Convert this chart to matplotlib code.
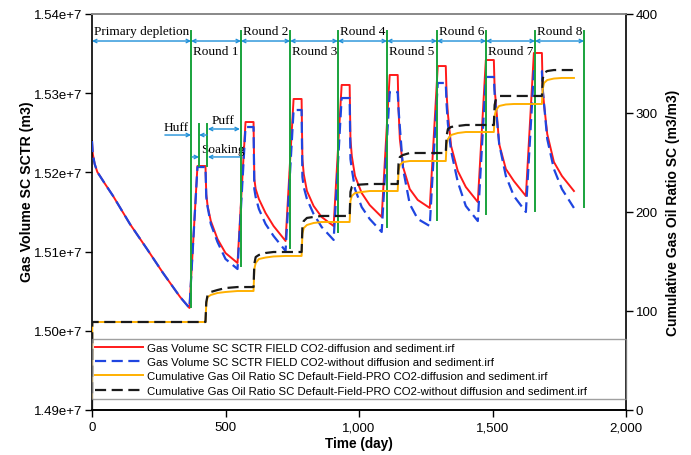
import matplotlib
matplotlib.use("Agg")
import matplotlib.pyplot as plt
from matplotlib.ticker import FuncFormatter, FixedLocator

# ---- data (gas volume in million m3, GOR in m3/m3, time in days) ----
primary_days = [0, 3, 10, 20, 49, 79, 142, 206, 266, 330, 365]
primary_gas = [15.2396, 15.2232, 15.2106, 15.2005, 15.1854, 15.1702,
               15.1349, 15.1033, 15.0730, 15.0427, 15.0288]

round_starts = [365, 545, 725, 905, 1085, 1265, 1445, 1625]
huff_days = 30
soak_days = 30
puff_offsets = [0, 3, 8, 20, 45, 75, 120]

# first value = plateau after huff, then values during puff
red_puff = [
    [15.2081, 15.1727, 15.1576, 15.1386, 15.1159, 15.0982, 15.0856],
    [15.2636, 15.1917, 15.1790, 15.1664, 15.1487, 15.1323, 15.1134],
    [15.2927, 15.2169, 15.1980, 15.1765, 15.1576, 15.1437, 15.1323],
    [15.3104, 15.2422, 15.2207, 15.1955, 15.1740, 15.1588, 15.1437],
    [15.3230, 15.2801, 15.2422, 15.2068, 15.1790, 15.1652, 15.1551],
    [15.3343, 15.2990, 15.2737, 15.2333, 15.2018, 15.1816, 15.1626],
    [15.3419, 15.3053, 15.2864, 15.2359, 15.2043, 15.1891, 15.1702],
    [15.3508, 15.3053, 15.2864, 15.2485, 15.2131, 15.1955, 15.1765],
]
blue_puff = [
    [15.2068, 15.1689, 15.1563, 15.1349, 15.1121, 15.0907, 15.0780],
    [15.2573, 15.1790, 15.1689, 15.1538, 15.1349, 15.1197, 15.1008],
    [15.2788, 15.1942, 15.1816, 15.1664, 15.1475, 15.1311, 15.1147],
    [15.2939, 15.2169, 15.2043, 15.1790, 15.1563, 15.1412, 15.1248],
    [15.3015, 15.2801, 15.2573, 15.2043, 15.1601, 15.1412, 15.1323],
    [15.3129, 15.2864, 15.2611, 15.2270, 15.1879, 15.1576, 15.1386],
    [15.3205, 15.2990, 15.2801, 15.2359, 15.1955, 15.1702, 15.1500],
    [15.3280, 15.3053, 15.2864, 15.2422, 15.2043, 15.1790, 15.1551],
]

gor_start = [0.0, 88.9]
orange_puff = [
    [88.9, 107.1, 114.1, 116.2, 118.2, 119.2, 120.2],
    [120.2, 142.4, 148.5, 152.5, 154.0, 155.1, 155.6],
    [155.6, 177.8, 183.8, 186.9, 188.9, 189.9, 189.9],
    [189.9, 211.1, 216.2, 219.2, 220.2, 221.2, 221.2],
    [221.2, 241.4, 247.5, 250.5, 251.5, 251.5, 251.5],
    [251.5, 268.7, 273.7, 277.8, 279.8, 280.8, 280.8],
    [280.8, 297.0, 303.0, 307.1, 308.6, 309.1, 309.1],
    [309.1, 324.2, 330.3, 333.3, 334.8, 335.4, 335.4],
]
black_puff = [
    [88.9, 109.1, 116.2, 119.2, 121.2, 123.2, 124.2],
    [124.2, 147.5, 154.5, 156.6, 158.6, 159.6, 159.6],
    [159.6, 184.8, 190.9, 194.0, 195.0, 196.0, 196.0],
    [196.0, 220.2, 225.3, 227.3, 227.8, 228.3, 228.3],
    [228.3, 248.5, 255.6, 257.6, 259.6, 259.6, 259.6],
    [259.6, 276.8, 283.8, 285.9, 286.9, 287.9, 287.9],
    [287.9, 308.1, 314.1, 317.2, 317.2, 317.2, 317.2],
    [317.2, 334.3, 340.4, 342.4, 343.4, 343.4, 343.4],
]

# hand-drawn annotation lines (day, bottom of line in million m3)
marker_days = [371, 558, 742, 921, 1105, 1292, 1476, 1659, 1843]
marker_bottoms = [15.0301, 15.0818, 15.1046, 15.1248, 15.1311,
                  15.1399, 15.1475, 15.1513, 15.1563]
marker_top = 15.3785
phase_days = [401, 431]
phase_top, phase_bottom = 15.2611, 15.2081
period_labels = ["Primary depletion", "Round 1", "Round 2", "Round 3", "Round 4",
                 "Round 5", "Round 6", "Round 7", "Round 8"]

legend_labels = [
    "Gas Volume SC SCTR FIELD CO2-diffusion and sediment.irf",
    "Gas Volume SC SCTR FIELD CO2-without diffusion and sediment.irf",
    "Cumulative Gas Oil Ratio SC Default-Field-PRO CO2-diffusion and sediment.irf",
    "Cumulative Gas Oil Ratio SC Default-Field-PRO CO2-without diffusion and sediment.irf",
]


def gas_series(puff):
    days = list(primary_days)
    vals = list(primary_gas)
    for t0, seg in zip(round_starts, puff):
        days.append(t0 + huff_days)
        vals.append(seg[0])
        for off, v in zip(puff_offsets, seg):
            days.append(t0 + huff_days + soak_days + off)
            vals.append(v)
    return days, [v * 1e6 for v in vals]


def gor_series(puff):
    days = [0, 1]
    vals = list(gor_start)
    for t0, seg in zip(round_starts, puff):
        for off, v in zip(puff_offsets, seg):
            days.append(t0 + huff_days + soak_days + off)
            vals.append(v)
    return days, vals


plt.rcParams["font.family"] = ["Liberation Sans", "DejaVu Sans"]
SERIF = ["Liberation Serif", "DejaVu Serif"]
ARROW_C = "#1e8fd8"
GREEN = "#19a33c"

fig = plt.figure(figsize=(6.91, 4.56), dpi=100)
ax = fig.add_axes([92 / 691, 1 - 411 / 456, 534 / 691, 396 / 456])
ax2 = ax.twinx()

d, v = gas_series(red_puff)
l1, = ax.plot(d, v, color="#ff1a1a", lw=1.4, zorder=2)
d, v = gas_series(blue_puff)
l2, = ax.plot(d, v, color="#1f45e0", lw=1.6, ls=(0, (5, 2.5)), zorder=3)

d, v = gor_series(orange_puff)
l3, = ax2.plot(d, v, color="#ffb000", lw=1.4)
d, v = gor_series(black_puff)
l4, = ax2.plot(d, v, color="#1a1a1a", lw=1.6, ls=(0, (5, 2.5)))

# green round markers
for x, b in zip(marker_days, marker_bottoms):
    ax.plot([x, x], [marker_top * 1e6, b * 1e6], color=GREEN, lw=1.4, zorder=4)
for x in phase_days:
    ax.plot([x, x], [phase_top * 1e6, phase_bottom * 1e6], color=GREEN, lw=1.4, zorder=4)


def arrow(x1, x2, y, style="<->"):
    ax.annotate("", xy=(x2, y * 1e6), xytext=(x1, y * 1e6),
                arrowprops=dict(arrowstyle=style, color=ARROW_C, lw=1.0,
                                shrinkA=0, shrinkB=0, mutation_scale=6),
                zorder=5)


# period arrows and labels
bounds = [0] + marker_days
for i, name in enumerate(period_labels):
    arrow(bounds[i], bounds[i + 1], 15.3659)
    y = 15.3533 if i % 2 == 1 else 15.3785
    ax.text(bounds[i] + 6, y * 1e6, name, family=SERIF, fontsize=9.5,
            ha="left", va="center", zorder=5)

# huff / soaking / puff details of round 1
ax.text(316, 15.2573e6, "Huff", family=SERIF, fontsize=9.5, ha="center", va="center")
arrow(273, 371, 15.2472, "->")
arrow(431, 401, 15.2472, "->")
ax.text(491, 15.2662e6, "Puff", family=SERIF, fontsize=9.5, ha="center", va="center")
arrow(434, 554, 15.2548)
ax.text(489, 15.2296e6, "Soaking", family=SERIF, fontsize=9.5, ha="center", va="center")
arrow(375, 401, 15.2195, "->")
arrow(554, 434, 15.2195, "->")

# axes
ax.set_xlim(0, 2000)
ax.set_ylim(1.49e7, 1.54e7)
ax2.set_ylim(0, 400)
ax.xaxis.set_major_locator(FixedLocator([0, 500, 1000, 1500, 2000]))
ax.xaxis.set_major_formatter(FuncFormatter(lambda x, p: f"{x:,.0f}"))
ax.yaxis.set_major_locator(FixedLocator([1.49e7 + i * 1e5 for i in range(6)]))
ax.yaxis.set_major_formatter(FuncFormatter(lambda y, p: f"{y / 1e7:.2f}e+7"))
ax2.yaxis.set_major_locator(FixedLocator([0, 100, 200, 300, 400]))

for a in (ax, ax2):
    a.tick_params(labelsize=9.5, length=5, width=1, direction="out", pad=2)
    for s in a.spines.values():
        s.set_linewidth(1.2)
    a.spines["top"].set_color("#888888")
ax.tick_params(axis="x", pad=3)
ax.spines["right"].set_visible(False)
ax2.spines["left"].set_visible(False)

ax.set_xlabel("Time (day)", fontsize=9.8, fontweight="bold", labelpad=2)
ax.set_ylabel("Gas Volume SC SCTR (m3)", fontsize=10.2, fontweight="bold", labelpad=4)
ax.yaxis.set_label_coords(-0.108, 0.553)
ax2.set_ylabel("Cumulative Gas Oil Ratio SC (m3/m3)", fontsize=10, fontweight="bold",
               labelpad=6)

leg = ax2.legend([l1, l2, l3, l4], legend_labels, loc="lower left",
                 bbox_to_anchor=(0, 11 / 396, 1, 62 / 396), mode="expand",
                 borderaxespad=0, fontsize=8.2, handlelength=4.2, handletextpad=0.3,
                 borderpad=0.3, labelspacing=0.38, fancybox=False)
leg.get_frame().set_edgecolor("#888888")
leg.get_frame().set_facecolor("none")
leg.get_frame().set_linewidth(1.0)

fig.savefig("out.png", dpi=100, facecolor="white")
